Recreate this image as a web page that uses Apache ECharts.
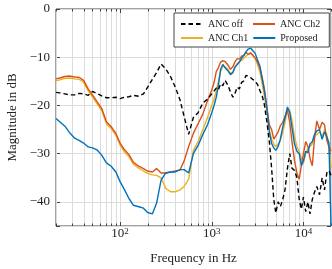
<!DOCTYPE html>
<html><head><meta charset="utf-8">
<script src="https://cdn.jsdelivr.net/npm/echarts@6/dist/echarts.min.js"></script>
<style>html,body{margin:0;padding:0;background:#fff}#c{width:332px;height:269px}</style>
</head><body><div id="c"></div>
<script>
const freqs = [20,22,25,28,32,36,40,45,50,56,63,71,80,90,100,112,125,140,160,180,
200,225,250,280,315,355,400,450,500,560,630,710,800,900,1000,
1060,1120,1180,1250,1320,1400,1500,1600,1700,1800,1900,2000,2120,2240,2360,2500,2650,2800,2980,3150,
3350,3550,3750,4000,4250,4500,4750,5000,5300,5600,5950,6300,6700,7100,7500,8000,8500,9000,9500,10000,
10600,11200,11800,12500,13200,14000,15000,16000,17000,18000,19000,20000];

const ancOff = [-17.3,-17.4,-17.6,-17.8,-17.8,-17.5,-17.6,-17.9,-17.1,-17.5,-18.0,-18.4,-18.4,-18.3,-18.6,-18.3,-18.2,-17.9,-18.1,-17.6,
-16.2,-14.6,-13.2,-11.4,-12.4,-14.0,-16.2,-18.8,-22.3,-26.0,-22.5,-21.5,-19.5,-18.7,-17.6,
-17.0,-16.4,-16.8,-15.5,-15.9,-14.8,-15.8,-17.2,-18.3,-17.4,-16.2,-16.6,-15.2,-14.9,-13.8,-13.9,-14.2,-14.6,-15.0,-15.6,
-16.9,-18.0,-19.8,-23.5,-27.5,-33.0,-39.5,-42.3,-40.0,-41.0,-39.5,-37.5,-33.0,-30.0,-33.0,-33.5,-35.0,-39.5,-41.5,-39.0,
-42.0,-40.0,-42.5,-39.5,-38.0,-36.8,-38.5,-35.0,-37.5,-34.0,-33.5,-34.5];

const ancCh2 = [-14.5,-14.3,-14.0,-13.9,-14.1,-14.2,-14.8,-16.6,-17.8,-19.2,-20.6,-23.4,-24.4,-25.8,-27.8,-29.2,-30.2,-31.8,-32.6,-33.1,
-33.6,-33.8,-33.1,-34.0,-34.0,-33.8,-33.6,-33.4,-31.5,-28.5,-25.8,-23.8,-21.8,-19.0,-16.8,
-15.3,-13.0,-12.2,-11.0,-10.7,-10.9,-11.6,-12.5,-12.0,-10.9,-10.3,-10.4,-9.8,-9.6,-9.0,-9.4,-9.1,-9.5,-10.2,-10.9,
-12.2,-14.2,-16.5,-20.5,-24.0,-25.0,-27.0,-26.3,-25.5,-24.2,-23.5,-22.3,-21.0,-23.5,-27.5,-31.5,-34.0,-35.3,-32.5,-30.0,
-27.5,-28.5,-31.0,-32.5,-27.0,-23.2,-25.0,-23.5,-24.0,-27.2,-28.5,-29.5];

const ancCh1 = [-14.9,-14.7,-14.4,-14.3,-14.5,-14.6,-15.2,-17.0,-18.2,-19.6,-21.0,-23.8,-24.8,-26.2,-28.2,-29.7,-30.6,-32.2,-33.0,-33.6,
-34.1,-34.4,-34.5,-35.0,-37.2,-37.9,-37.9,-37.5,-36.8,-35.3,-29.3,-27.5,-25.0,-22.5,-20.0,
-18.6,-17.0,-15.0,-13.0,-11.8,-12.0,-12.5,-13.4,-13.0,-12.0,-11.3,-11.0,-10.6,-10.2,-9.8,-9.4,-9.2,-9.7,-10.3,-11.5,
-13.0,-15.5,-18.0,-21.5,-25.0,-27.0,-28.0,-28.5,-28.0,-27.3,-25.5,-23.5,-20.8,-21.0,-23.0,-26.5,-28.5,-29.5,-31.0,-32.0,
-30.0,-29.0,-28.5,-28.0,-26.5,-26.0,-25.5,-26.5,-25.0,-26.0,-29.0,-33.0];

const proposed = [-22.7,-23.4,-24.3,-25.6,-26.8,-27.3,-27.8,-28.6,-28.8,-29.2,-30.3,-31.9,-32.6,-33.8,-35.8,-37.5,-39.3,-40.7,-41.0,-41.3,
-42.2,-42.5,-40.3,-35.5,-34.0,-33.8,-33.8,-33.3,-33.3,-34.0,-30.0,-28.3,-26.0,-24.0,-21.5,
-20.0,-18.3,-16.0,-12.5,-11.5,-12.2,-12.8,-13.6,-13.2,-12.0,-11.5,-11.0,-10.2,-9.6,-8.9,-8.3,-8.1,-8.6,-9.2,-10.5,
-11.8,-14.5,-17.0,-20.5,-25.5,-27.9,-28.8,-29.3,-28.5,-27.0,-24.5,-22.5,-20.3,-21.5,-24.5,-28.0,-29.5,-30.0,-32.5,-31.5,
-29.5,-29.8,-28.0,-27.5,-26.0,-25.3,-25.0,-27.0,-25.5,-26.5,-27.8,-45.0];

const gridFreqs = [20,30,40,50,60,70,80,90,100,200,300,400,500,600,700,800,900,1000,2000,3000,4000,5000,6000,7000,8000,9000,10000,20000];
const yTicks = [-40,-30,-20,-10,0];
const xMin = 20, xMax = 20000, yMin = -45, yMax = 0;

const FONT = "'Liberation Serif','DejaVu Serif',serif";
const pair = ys => freqs.map((f, i) => [f, ys[i]]);

const chart = echarts.init(document.getElementById('c'), null, {renderer: 'canvas'});
const mkLine = (name, ys, color, z, dashed) => ({
  name, type: 'line', data: pair(ys), symbol: 'none', z, animation: false,
  lineStyle: {color, width: 1.4, type: dashed ? [4.5, 3] : 'solid'},
  itemStyle: {color}
});

chart.setOption({
  animation: false,
  grid: {left: 56, right: 1, top: 9, bottom: 43, show: true, borderColor: '#444', borderWidth: 1,
         backgroundColor: 'transparent', containLabel: false, outerBoundsMode: 'none'},
  legend: {
    data: ['ANC off', 'ANC Ch2', 'ANC Ch1', 'Proposed'],
    left: 174, top: 13, width: 160, orient: 'horizontal',
    padding: [6, 9, 4, 6], itemGap: 4, itemWidth: 22, itemHeight: 8,
    borderColor: '#444', borderWidth: 1, backgroundColor: '#fff', borderRadius: 0,
    itemStyle: {opacity: 0},
    textStyle: {fontFamily: FONT, fontSize: 10, color: '#222', width: 40, lineHeight: 8}
  },
  xAxis: {
    type: 'log', logBase: 10, min: xMin, max: xMax,
    name: 'Frequency in Hz', nameLocation: 'middle', nameGap: 26,
    nameTextStyle: {fontFamily: FONT, fontSize: 13, color: '#222'},
    axisLine: {show: false}, axisTick: {show: false}, splitLine: {show: false},
    axisLabel: {
      margin: 1, color: '#222',
      formatter: v => {
        const e = Math.round(Math.log10(v));
        if (Math.abs(v - Math.pow(10, e)) > 1e-6 * v) return '';
        return '{b|10}{s|' + e + '}';
      },
      rich: {
        b: {fontFamily: FONT, fontSize: 13, lineHeight: 13, verticalAlign: 'bottom', color: '#222'},
        s: {fontFamily: FONT, fontSize: 9, lineHeight: 9, verticalAlign: 'bottom', padding: [0, 0, 4, 0], color: '#222'}
      }
    }
  },
  yAxis: [{
    type: 'value', min: yMin, max: yMax,
    name: 'Magnitude in dB', nameLocation: 'middle', nameGap: 37,
    nameTextStyle: {fontFamily: FONT, fontSize: 13, color: '#222'},
    axisLine: {show: false},
    axisTick: {show: true, inside: true, length: 4, lineStyle: {color: '#444'}},
    splitLine: {show: true, lineStyle: {color: '#dcdcdc', width: 1}},
    axisLabel: {
      margin: 6, fontFamily: FONT, fontSize: 13, color: '#222',
      formatter: v => yTicks.indexOf(v) < 0 ? '' : (v < 0 ? '\u2212' + Math.abs(v) : String(v))
    }
  }, {
    type: 'value', min: yMin, max: yMax, position: 'right',
    axisLine: {show: false}, axisLabel: {show: false}, splitLine: {show: false},
    axisTick: {show: true, inside: true, length: 4, lineStyle: {color: '#444'}}
  }],
  series: [
    {
      type: 'custom', silent: true, z: 1, animation: false,
      data: gridFreqs.map(f => [f, Number.isInteger(Math.log10(f)) ? 1 : 0]),
      encode: {x: 0},
      renderItem: (params, api) => {
        const f = api.value(0), major = api.value(1);
        const t = api.coord([f, yMax]), b = api.coord([f, yMin]);
        const x = Math.round(t[0]) + 0.5;
        const len = major ? 4 : 2.5;
        return {type: 'group', children: [
          {type: 'line', shape: {x1: x, y1: t[1], x2: x, y2: b[1]}, style: {stroke: '#dcdcdc', lineWidth: 1}},
          {type: 'line', shape: {x1: x, y1: b[1], x2: x, y2: b[1] - len}, style: {stroke: '#444', lineWidth: 1}},
          {type: 'line', shape: {x1: x, y1: t[1], x2: x, y2: t[1] + len}, style: {stroke: '#444', lineWidth: 1}}
        ]};
      }
    },
    mkLine('ANC Ch1', ancCh1, '#EDB120', 2, false),
    mkLine('ANC Ch2', ancCh2, '#D95319', 3, false),
    mkLine('Proposed', proposed, '#0072BD', 4, false),
    mkLine('ANC off', ancOff, '#000000', 5, true)
  ]
});
</script></body></html>
